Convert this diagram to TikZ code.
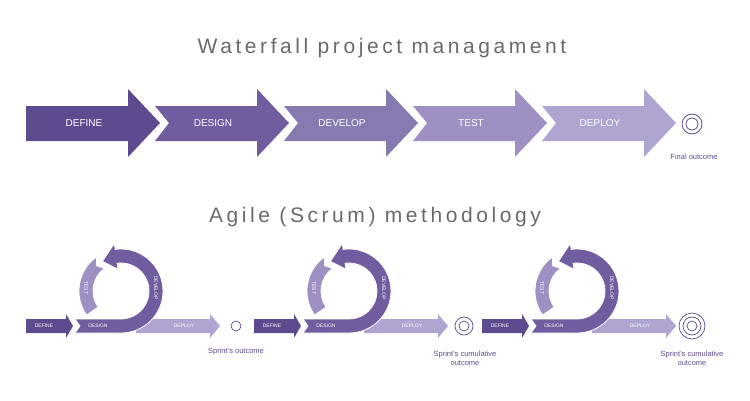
\documentclass[tikz,border=0pt]{standalone}
\usepackage{fontspec}
\setmainfont{Liberation Sans}
\definecolor{pA}{HTML}{5E4A8F}
\definecolor{pB}{HTML}{705C9E}
\definecolor{pC}{HTML}{877AB0}
\definecolor{pD}{HTML}{9E90C2}
\definecolor{pE}{HTML}{B0A5D0}
\definecolor{ttl}{HTML}{6A6A6A}
\tikzset{
  band/.style={draw=white,line width=0.8pt,line join=miter},
  lab/.style={text=white,font=\fontsize{10}{11}\selectfont},
  tlab/.style={text=white,font=\fontsize{5}{6}\selectfont},
  note/.style={text=pA,font=\fontsize{7.5}{9}\selectfont,align=center},
  title/.style={text=ttl,font=\fontsize{21}{25}\selectfont\addfontfeature{LetterSpace=17}}
}
\begin{document}
\begin{tikzpicture}[x=1pt,y=1pt]
\useasboundingbox (0,0) rectangle (750,400);
\node[title] (wtitle) at (382,352) {Waterfall project managament};
\node[title] (atitle) at (375,183) {Agile (Scrum) methodology};
% waterfall
\foreach \x/\c/\t/\n in {0/pA/DEFINE/wa,1/pB/DESIGN/wb,2/pC/DEVELOP/wc,3/pD/TEST/wd,4/pE/DEPLOY/we}{
  \begin{scope}[xshift=26+\x*129]
  \ifnum\x=0
    \fill[\c] (0,294) -- (102,294) -- (102,311) -- (134,277) -- (102,243) -- (102,259) -- (0,259) -- cycle;
  \else
    \fill[\c] (0,294) -- (102,294) -- (102,311) -- (134,277) -- (102,243) -- (102,259) -- (0,259) -- (14,277) -- cycle;
  \fi
  \node[lab] (\n) at (58,277) {\t};
  \end{scope}
}
\draw[pA,line width=0.8pt] (692,276) circle (10) circle (6);
\node[note] (final) at (694,243) {Final outcome};
% agile sprints
\foreach \s/\o in {0/1,1/2,2/3}{
  \begin{scope}[shift={(26+\s*228,74)}]
  \fill[pA] (0,7) -- (40,7) -- (40,12) -- (47,0) -- (40,-12) -- (40,-7) -- (0,-7) -- cycle;
  \node[tlab] (def\s) at (18,0) {DEFINE};
  \fill[pE] (110,7) -- (184,7) -- (184,12) -- (194,0) -- (184,-12) -- (184,-7) -- (110,-7) -- cycle;
  \node[tlab] (dep\s) at (158,0) {DEPLOY};
  \fill[pB,band] (49,7) -- (54,0) -- (49,-7) -- (95,-7) arc[start angle=-90,end angle=98,radius=42]
    -- ([shift={(95,35)}]98:48) -- ([shift={(95,35)}]122:35) -- ([shift={(95,35)}]98:22)
    -- ([shift={(95,35)}]98:28) arc[start angle=98,end angle=-90,radius=28] -- cycle;
  \fill[pD,band] ([shift={(95,35)}]126:42) arc[start angle=126,end angle=215,radius=42]
    -- ([shift={(95,35)}]215:28) arc[start angle=215,end angle=126,radius=28]
    -- ([shift={(95,35)}]134:35) -- cycle;
  \node[tlab] (des\s) at (72,0) {DESIGN};
  \node[tlab,rotate=-90] (dev\s) at ([shift={(95,35)}]5:35) {DEVELOP};
  \node[tlab,rotate=-90] (tst\s) at ([shift={(95,35)}]175:35) {TEST};
  \foreach \r in {1,...,\o}{\draw[pA,line width=0.7pt] (210,0) circle ({1+4*\r});}
  \end{scope}
}
\node[note] (out0) at (236,48) {Sprint's outcome};
\node[note] (out1) at (465,42) {Sprint's cumulative\\outcome};
\node[note] (out2) at (692,42) {Sprint's cumulative\\outcome};
\end{tikzpicture}
\end{document}
